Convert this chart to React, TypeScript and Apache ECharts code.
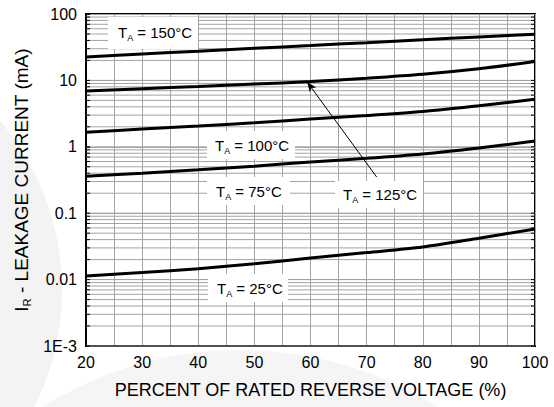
import React, { useEffect, useRef } from 'react';
import * as echarts from 'echarts';

// ---- data ----
const xValues = [20, 30, 40, 50, 60, 70, 80, 90, 100];
const ta150 = [22.5, 25, 27.5, 30.5, 33.5, 37, 41, 45, 49.5];
const ta125 = [6.9, 7.5, 8.1, 8.8, 9.6, 10.8, 12.4, 15, 19.2];
const ta100 = [1.65, 1.85, 2.05, 2.3, 2.62, 2.95, 3.4, 4.15, 5.2];
const ta75 = [0.36, 0.4, 0.45, 0.51, 0.59, 0.67, 0.78, 0.96, 1.22];
const ta25 = [0.0113, 0.0128, 0.0146, 0.0173, 0.0212, 0.0255, 0.031, 0.042, 0.058];

const yTickValues = [0.001, 0.01, 0.1, 1, 10, 100];
const yTickLabels = ['1E-3', '0.01', '0.1', '1', '10', '100'];

const curveTemps = ['150', '125', '100', '75', '25'];
const arrowFrom = [71.8, 0.35];
const arrowTo = [59.4, 9.5];

const xTitle = 'PERCENT OF RATED REVERSE VOLTAGE (%)';
const yTitleMain = 'I';
const yTitleSub = 'R';
const yTitleRest = ' - LEAKAGE CURRENT (mA)';

// ---- layout (pixels) of the in-plot labels ----
const labelLayout = [
  { bx: 108, by: 17, bw: 90, bh: 32, tx: 118, ty: 32 },
  { bx: 335, by: 181, bw: 88, bh: 27, tx: 343, ty: 194 },
  { bx: 207, by: 131, bw: 88, bh: 28, tx: 215, ty: 145 },
  { bx: 207, by: 177, bw: 83, bh: 28, tx: 216, ty: 191 },
  { bx: 208, by: 274, bw: 80, bh: 28, tx: 217, ty: 288 },
];

const FONT = '"Liberation Sans", Arial, Helvetica, sans-serif';

function toPairs(arr: number[]) {
  return xValues.map((x, i) => [x, arr[i]]);
}

export default function App() {
  const ref = useRef<HTMLDivElement>(null);

  useEffect(() => {
    if (!ref.current) return;
    const chart = echarts.init(ref.current, undefined, { renderer: 'svg' });

    // horizontal grid values (1..9 per decade) for minor lines and edge ticks
    const gridVals: number[] = [];
    for (let k = -3; k <= 1; k++) {
      for (let m = 1; m <= 9; m++) {
        gridVals.push(parseFloat((m * Math.pow(10, k)).toPrecision(6)));
      }
    }

    const curveLine = (name: string, arr: number[], extra: any = {}) => ({
      type: 'line',
      name,
      data: toPairs(arr),
      smooth: 0.3,
      symbol: 'none',
      z: 10,
      silent: true,
      lineStyle: { color: '#000', width: 3 },
      ...extra,
    });

    const richLabel = {
      m: { fontSize: 15, lineHeight: 20, fontFamily: FONT, fill: '#000', color: '#000' },
      s: { fontSize: 9, lineHeight: 9, verticalAlign: 'bottom', fontFamily: FONT, fill: '#000', color: '#000' },
    };

    const graphics: any[] = [
      { type: 'circle', shape: { cx: -200, cy: 290, r: 262 }, style: { fill: '#f3f3f3' }, z: -5, silent: true },
      { type: 'circle', shape: { cx: 240, cy: 720, r: 370 }, style: { fill: '#f5f5f5' }, z: -5, silent: true },
    ];
    labelLayout.forEach((l, i) => {
      graphics.push({
        type: 'rect',
        shape: { x: l.bx, y: l.by, width: l.bw, height: l.bh },
        style: { fill: '#ffffff' },
        z: 5,
        silent: true,
      });
      graphics.push({
        type: 'text',
        x: l.tx,
        y: l.ty,
        z: 6,
        silent: true,
        style: {
          text: `{m|T}{s|A}{m| = ${curveTemps[i]}°C}`,
          rich: richLabel,
          align: 'left',
          verticalAlign: 'middle',
          fill: '#000',
          font: `15px ${FONT}`,
        },
      });
    });

    chart.setOption({
      animation: false,
      grid: {
        left: 86,
        right: 19,
        top: 14,
        bottom: 61,
        show: true,
        backgroundColor: '#ffffff',
        borderColor: '#000',
        borderWidth: 2,
      },
      xAxis: {
        type: 'value',
        min: 20,
        max: 100,
        interval: 10,
        name: xTitle,
        nameLocation: 'middle',
        nameGap: 35,
        nameTextStyle: { fontSize: 18, color: '#000', fontFamily: FONT },
        axisLine: { show: true, lineStyle: { color: '#000', width: 2 } },
        axisTick: { show: false },
        axisLabel: { fontSize: 16, color: '#000', fontFamily: FONT, margin: 8 },
        splitLine: { show: true, lineStyle: { color: '#a3a3a3', width: 1 } },
        minorTick: { show: false, splitNumber: 2 },
        minorSplitLine: { show: true, lineStyle: { color: '#a3a3a3', width: 1 } },
      },
      yAxis: {
        type: 'log',
        logBase: 10,
        min: 0.001,
        max: 100,
        splitNumber: 5,
        name: `{i|${yTitleMain}}{sub|${yTitleSub}}{i|${yTitleRest}}`,
        nameLocation: 'middle',
        nameRotate: 90,
        nameGap: 54,
        nameTextStyle: {
          fontSize: 19,
          color: '#000',
          fontFamily: FONT,
          rich: {
            i: { fontSize: 19, lineHeight: 22, color: '#000', fontFamily: FONT },
            sub: { fontSize: 11, lineHeight: 11, verticalAlign: 'bottom', color: '#000', fontFamily: FONT },
          },
        },
        axisLine: { show: true, lineStyle: { color: '#000', width: 2 } },
        axisTick: { show: true, inside: true, length: 4, lineStyle: { color: '#000' } },
        axisLabel: {
          fontSize: 16,
          color: '#000',
          fontFamily: FONT,
          margin: 9,
          formatter: (v: number) => {
            const i = yTickValues.findIndex((t) => Math.abs(Math.log10(t) - Math.log10(v)) < 1e-6);
            return i >= 0 ? yTickLabels[i] : '';
          },
        },
        splitLine: { show: true, lineStyle: { color: '#a3a3a3', width: 1 } },
      },
      graphic: graphics,
      series: [
        {
          type: 'custom',
          z: 1,
          silent: true,
          clip: false,
          data: gridVals.map((v) => [20, v]),
          encode: { x: 0, y: 1 },
          renderItem: (params: any, api: any) => {
            const y = api.coord([api.value(0), api.value(1)])[1];
            const cs = params.coordSys;
            return {
              type: 'group',
              children: [
                { type: 'line', shape: { x1: cs.x, y1: y, x2: cs.x + cs.width, y2: y }, style: { stroke: '#a3a3a3', lineWidth: 1 } },
                { type: 'line', shape: { x1: cs.x, y1: y, x2: cs.x + 4, y2: y }, style: { stroke: '#000', lineWidth: 1 } },
                { type: 'line', shape: { x1: cs.x + cs.width - 4, y1: y, x2: cs.x + cs.width, y2: y }, style: { stroke: '#000', lineWidth: 1 } },
              ],
            };
          },
        },
        curveLine('TA = 150°C', ta150),
        curveLine('TA = 125°C', ta125, {
          markLine: {
            silent: true,
            symbol: ['none', 'arrow'],
            symbolSize: [6, 10],
            label: { show: false },
            lineStyle: { color: '#000', width: 1, type: 'solid' },
            data: [[{ coord: arrowFrom }, { coord: arrowTo }]],
          },
        }),
        curveLine('TA = 100°C', ta100),
        curveLine('TA = 75°C', ta75),
        curveLine('TA = 25°C', ta25),
      ],
    });

    return () => {
      chart.dispose();
    };
  }, []);

  return (
    <div
      ref={ref}
      style={{ position: 'absolute', left: 0, top: 0, width: 554, height: 407, background: '#fff' }}
    />
  );
}
